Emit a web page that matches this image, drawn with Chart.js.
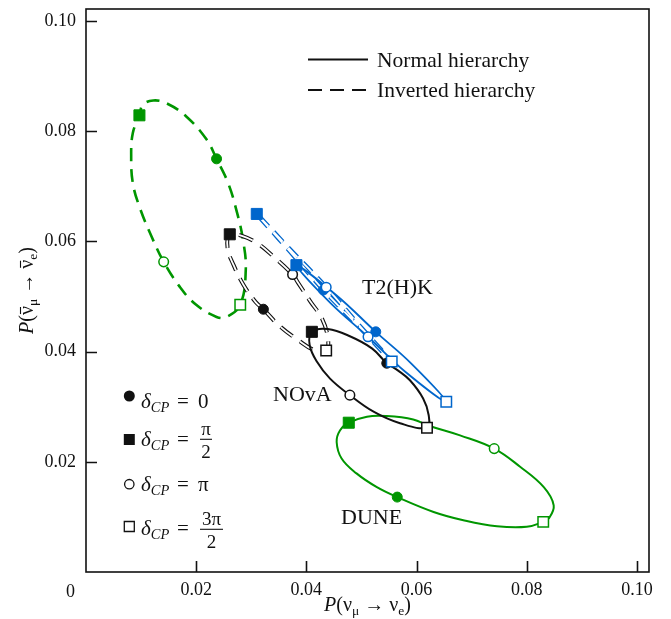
<!DOCTYPE html>
<html>
<head>
<meta charset="utf-8">
<script src="https://cdn.jsdelivr.net/npm/chart.js@4.4.1/dist/chart.umd.min.js"></script>
<style>
  html, body { margin: 0; padding: 0; background: #fff; }
</style>
</head>
<body>
<canvas id="chart" width="671" height="619"></canvas>
<script>
const GREEN = 'rgb(0,150,0)';
const BLUE = 'rgb(0,102,204)';
const INK = '#111';
const SERIF = '"Liberation Serif", "Times New Roman", serif';

const axisMax = 0.1022;
const xTicks = [0.02, 0.04, 0.06, 0.08, 0.10];
const yTicks = [0.02, 0.04, 0.06, 0.08, 0.10];

// trajectories traced as delta_CP runs from 0 to 2pi (closed loops)
const duneNH = [
  [0.0565, 0.0136], [0.0528, 0.0154], [0.0491, 0.0179], [0.0464, 0.0206], [0.0455, 0.0236],
  [0.0461, 0.0257], [0.0477, 0.0271], [0.0510, 0.0282], [0.0546, 0.0283], [0.0594, 0.0277],
  [0.0621, 0.0266], [0.0679, 0.0248], [0.0741, 0.0224], [0.0788, 0.0191], [0.0831, 0.0154],
  [0.0849, 0.0121], [0.0840, 0.0097], [0.0830, 0.0091], [0.0800, 0.0082], [0.0746, 0.0083],
  [0.0685, 0.0094], [0.0631, 0.0109]
];
const duneIH = [
  [0.0237, 0.0750], [0.0219, 0.0785], [0.0182, 0.0827], [0.0146, 0.0851], [0.0122, 0.0856],
  [0.0103, 0.0848], [0.0097, 0.0829], [0.0085, 0.0797], [0.0082, 0.0754], [0.0085, 0.0706],
  [0.0097, 0.0663], [0.0119, 0.0609], [0.0141, 0.0563], [0.0170, 0.0518], [0.0200, 0.0485],
  [0.0237, 0.0463], [0.0255, 0.0463], [0.0280, 0.0485], [0.0290, 0.0548], [0.0285, 0.0603],
  [0.0273, 0.0657], [0.0258, 0.0706]
];
const novaNH = [
  [0.0546, 0.0379], [0.0519, 0.0406], [0.0479, 0.0428], [0.0439, 0.0441], [0.0410, 0.0436],
  [0.0406, 0.0412], [0.0419, 0.0382], [0.0443, 0.0351], [0.0479, 0.0321], [0.0522, 0.0291],
  [0.0570, 0.0270], [0.0619, 0.0262], [0.0622, 0.0285], [0.0612, 0.0315], [0.0588, 0.0348],
  [0.0566, 0.0366]
];
const novaIH = [
  [0.0322, 0.0477], [0.0308, 0.0490], [0.0286, 0.0521], [0.0268, 0.0557], [0.0257, 0.0588],
  [0.0261, 0.0613], [0.0283, 0.0610], [0.0312, 0.0596], [0.0341, 0.0572], [0.0375, 0.0540],
  [0.0385, 0.0525], [0.0408, 0.0490], [0.0428, 0.0461], [0.0439, 0.0425], [0.0436, 0.0402],
  [0.0414, 0.0403], [0.0385, 0.0421], [0.0352, 0.0446]
];
const t2hkNH = [
  [0.0526, 0.0436], [0.0455, 0.0502], [0.0382, 0.0557], [0.0443, 0.0489],
  [0.0512, 0.0427], [0.0579, 0.0364], [0.0654, 0.0309], [0.0591, 0.0378]
];
const t2hkIH = [
  [0.0431, 0.0512], [0.0370, 0.0582], [0.0310, 0.0650], [0.0372, 0.0584],
  [0.0436, 0.0517], [0.0495, 0.0449], [0.0555, 0.0382], [0.0493, 0.0448]
];

// points at delta_CP = 0, pi/2, pi, 3pi/2
const duneNHMarks = [[0.0565, 0.0136], [0.0477, 0.0271], [0.0741, 0.0224], [0.0830, 0.0091]];
const duneIHMarks = [[0.0237, 0.0750], [0.0097, 0.0829], [0.0141, 0.0563], [0.0280, 0.0485]];
const novaNHMarks = [[0.0546, 0.0379], [0.0410, 0.0436], [0.0479, 0.0321], [0.0619, 0.0262]];
const novaIHMarks = [[0.0322, 0.0477], [0.0261, 0.0613], [0.0375, 0.0540], [0.0436, 0.0402]];
const t2hkNHMarks = [[0.0526, 0.0436], [0.0382, 0.0557], [0.0512, 0.0427], [0.0654, 0.0309]];
const t2hkIHMarks = [[0.0431, 0.0512], [0.0310, 0.0650], [0.0436, 0.0517], [0.0555, 0.0382]];

const toXY = pts => pts.map(([x, y]) => ({ x, y }));

function loop(points, color, width, dash) {
  return {
    data: toXY(points),
    closed: true,
    showLine: true,
    borderColor: color,
    borderWidth: width,
    borderDash: dash || [],
    borderCapStyle: 'butt',
    pointRadius: 0,
    tension: 0.4,
    fill: false
  };
}

function markers(points, color) {
  return {
    data: toXY(points),
    showLine: false,
    pointStyle: ['circle', 'rect', 'circle', 'rect'],
    pointRadius: [5, 7.8, 4.8, 7.4],
    pointBackgroundColor: [color, color, '#fff', '#fff'],
    pointBorderColor: color,
    pointBorderWidth: [1, 1, 1.5, 1.5]
  };
}

// listed bottom to top
const layers = [
  loop(duneIH, GREEN, 2.6, [13, 8]),
  loop(duneNH, GREEN, 2),
  markers(duneIHMarks, GREEN),
  markers(duneNHMarks, GREEN),
  loop(novaIH, INK, 4, [15, 9]),
  loop(novaIH, '#fff', 1.8, [15, 9]),
  loop(novaNH, INK, 2),
  markers(novaIHMarks, INK),
  markers(novaNHMarks, INK),
  loop(t2hkIH, BLUE, 4.4, [13, 8]),
  loop(t2hkIH, '#fff', 1.8, [13, 8]),
  loop(t2hkNH, BLUE, 1.8),
  markers(t2hkIHMarks, BLUE),
  markers(t2hkNHMarks, BLUE)
];
layers.forEach((ds, i) => { ds.order = layers.length - i; });

// make the line element wrap around like a radar outline
const closeLoops = {
  id: 'closeLoops',
  afterDatasetsUpdate(chart) {
    chart.data.datasets.forEach((ds, i) => {
      if (!ds.closed) return;
      const line = chart.getDatasetMeta(i).dataset;
      line._loop = true;
      line._fullLoop = true;
      line._segments = undefined;
      line._path = undefined;
      line._pointsUpdated = false;
    });
  }
};

function setFont(ctx, size, italic) {
  ctx.font = (italic ? 'italic ' : '') + size + 'px ' + SERIF;
}

// text made of runs with their own size, slant and offset
function drawRuns(ctx, runs, x, y, align) {
  let total = 0;
  runs.forEach(r => {
    setFont(ctx, r.size, r.italic);
    r.w = ctx.measureText(r.text).width;
    total += r.w;
  });
  let cx = align === 'center' ? x - total / 2 : x;
  runs.forEach(r => {
    setFont(ctx, r.size, r.italic);
    ctx.fillText(r.text, cx, y + (r.dy || 0));
    if (r.bar) {
      ctx.lineWidth = 1.1;
      ctx.beginPath();
      ctx.moveTo(cx + 1, y - r.size * 0.6);
      ctx.lineTo(cx + r.w - 1, y - r.size * 0.6);
      ctx.stroke();
    }
    cx += r.w;
  });
}

function fraction(ctx, top, bottom, cx, barY, barW) {
  setFont(ctx, 19, false);
  ctx.textAlign = 'center';
  ctx.fillText(top, cx, barY - 4);
  ctx.fillText(bottom, cx, barY + 18.5);
  ctx.textAlign = 'left';
  ctx.lineWidth = 1.1;
  ctx.beginPath();
  ctx.moveTo(cx - barW / 2, barY);
  ctx.lineTo(cx + barW / 2, barY);
  ctx.stroke();
}

const deltaRows = [
  { shape: 'circle', filled: true, my: 396, base: 408, value: '0' },
  { shape: 'rect', filled: true, my: 439.5, base: 446, frac: ['π', '2'], cx: 206, bar: 439.3, bw: 12 },
  { shape: 'circle', filled: false, my: 484.2, base: 491, value: 'π' },
  { shape: 'rect', filled: false, my: 526.5, base: 535, frac: ['3π', '2'], cx: 211.5, bar: 529.3, bw: 23 }
];

const decorations = {
  id: 'decorations',
  afterDraw(chart) {
    const { ctx, chartArea: a, scales: { x, y } } = chart;
    ctx.save();
    ctx.strokeStyle = INK;
    ctx.fillStyle = INK;

    // frame and inward ticks
    ctx.lineWidth = 1.6;
    ctx.strokeRect(a.left, a.top, a.right - a.left, a.bottom - a.top);
    ctx.beginPath();
    xTicks.forEach(v => {
      const px = Math.round(x.getPixelForValue(v)) + 0.5;
      ctx.moveTo(px, a.bottom);
      ctx.lineTo(px, a.bottom - 11);
    });
    yTicks.forEach(v => {
      const py = Math.round(y.getPixelForValue(v)) + 0.5;
      ctx.moveTo(a.left, py);
      ctx.lineTo(a.left + 11, py);
    });
    ctx.stroke();

    // shared origin label
    setFont(ctx, 18, false);
    ctx.textAlign = 'center';
    ctx.textBaseline = 'alphabetic';
    ctx.fillText('0', 70.5, 596.5);
    ctx.textAlign = 'left';

    // axis titles
    drawRuns(ctx, [
      { text: 'P', size: 20, italic: true },
      { text: '(ν', size: 20 },
      { text: 'μ', size: 13.5, dy: 4 },
      { text: ' → ν', size: 20 },
      { text: 'e', size: 13.5, dy: 4 },
      { text: ')', size: 20 }
    ], (a.left + a.right) / 2, 611, 'center');

    ctx.save();
    ctx.translate(32.5, (a.top + a.bottom) / 2);
    ctx.rotate(-Math.PI / 2);
    drawRuns(ctx, [
      { text: 'P', size: 20, italic: true },
      { text: '(', size: 20 },
      { text: 'ν', size: 20, bar: true },
      { text: 'μ', size: 13.5, dy: 4 },
      { text: ' → ', size: 20 },
      { text: 'ν', size: 20, bar: true },
      { text: 'e', size: 13.5, dy: 4 },
      { text: ')', size: 20 }
    ], 0, 0, 'center');
    ctx.restore();

    // experiment labels
    setFont(ctx, 22, false);
    ctx.fillText('T2(H)K', 362, 294);
    ctx.fillText('NOvA', 273, 401);
    ctx.fillText('DUNE', 341, 524);

    // hierarchy key
    ctx.lineWidth = 2;
    ctx.beginPath();
    ctx.moveTo(308, 59.5);
    ctx.lineTo(368, 59.5);
    ctx.stroke();
    ctx.setLineDash([14, 8]);
    ctx.beginPath();
    ctx.moveTo(308, 90);
    ctx.lineTo(368, 90);
    ctx.stroke();
    ctx.setLineDash([]);
    setFont(ctx, 21.5, false);
    ctx.fillText('Normal hierarchy', 377, 67);
    ctx.fillText('Inverted hierarchy', 377, 97);

    // delta_CP key
    deltaRows.forEach(r => {
      ctx.lineWidth = 1.3;
      ctx.beginPath();
      if (r.shape === 'circle') {
        ctx.arc(129.3, r.my, r.filled ? 5.5 : 4.7, 0, Math.PI * 2);
      } else {
        const s = r.filled ? 11 : 10;
        ctx.rect(129.3 - s / 2, r.my - s / 2, s, s);
      }
      if (r.filled) ctx.fill(); else ctx.stroke();

      drawRuns(ctx, [
        { text: 'δ', size: 21, italic: true },
        { text: 'CP', size: 14.5, italic: true, dy: 4 }
      ], 141, r.base, 'left');
      setFont(ctx, 21, false);
      ctx.fillText('=', 177, r.base);
      if (r.value) {
        ctx.fillText(r.value, 198, r.base);
      } else {
        fraction(ctx, r.frac[0], r.frac[1], r.cx, r.bar, r.bw);
      }
    });
    ctx.restore();
  }
};

const tickFont = { family: SERIF, size: 18 };

// keep the plot box where it is: no extra room for end labels
function noLabelPadding(axis) {
  axis.paddingTop = 0;
  axis.paddingBottom = 0;
  axis.paddingLeft = 0;
  axis.paddingRight = 0;
}

new Chart(document.getElementById('chart'), {
  type: 'scatter',
  data: { datasets: layers },
  options: {
    responsive: false,
    animation: false,
    layout: { padding: { left: 0, right: 22, top: 9, bottom: 0 } },
    plugins: { legend: { display: false }, tooltip: { enabled: false } },
    scales: {
      x: {
        type: 'linear',
        min: 0,
        max: axisMax,
        grid: { display: false, drawTicks: false },
        border: { display: false },
        afterBuildTicks: axis => { axis.ticks = xTicks.map(v => ({ value: v })); },
        afterFit: axis => { axis.height = 47; noLabelPadding(axis); },
        ticks: { font: tickFont, color: INK, padding: 7, maxRotation: 0, autoSkip: false, callback: v => v.toFixed(2) }
      },
      y: {
        type: 'linear',
        min: 0,
        max: axisMax,
        grid: { display: false, drawTicks: false },
        border: { display: false },
        afterBuildTicks: axis => { axis.ticks = yTicks.map(v => ({ value: v })); },
        afterFit: axis => { axis.width = 86; noLabelPadding(axis); },
        ticks: { font: tickFont, color: INK, padding: 10, autoSkip: false, callback: v => v.toFixed(2) }
      }
    }
  },
  plugins: [closeLoops, decorations]
});
</script>
</body>
</html>
